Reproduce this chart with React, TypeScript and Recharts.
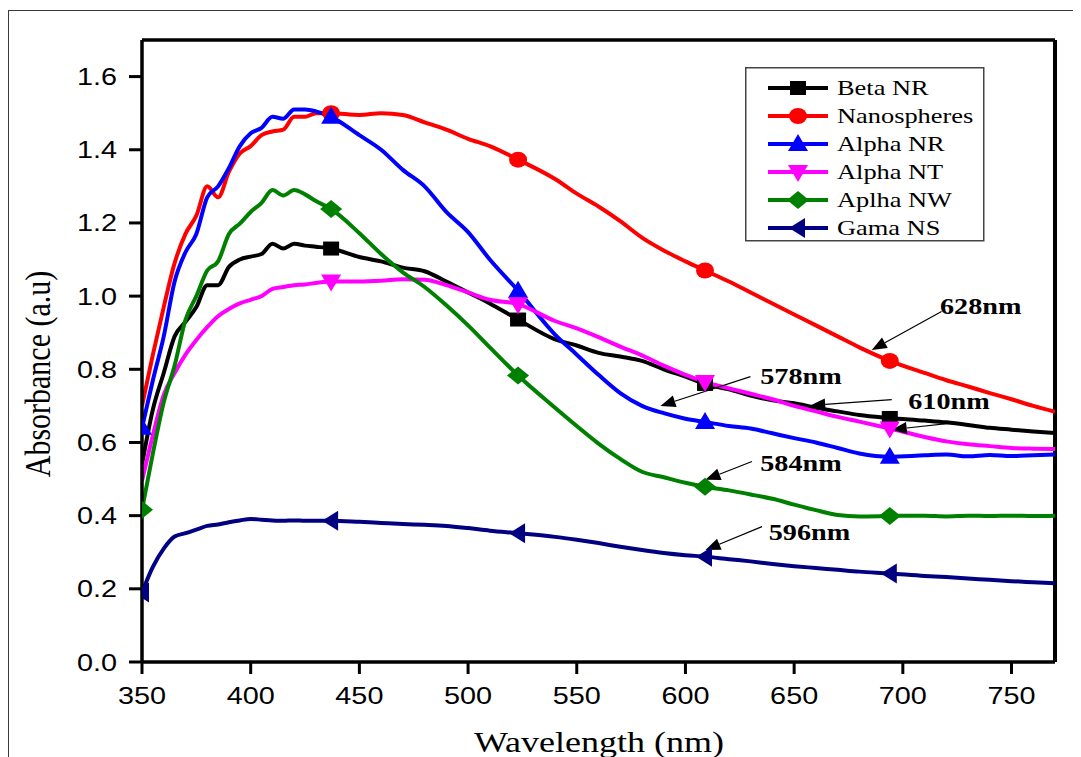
import React from 'react';
import { LineChart, Line, XAxis, YAxis, ReferenceLine, ReferenceDot, Legend } from 'recharts';

// ---------- data ----------
const wavelengths = [350, 355, 360, 365, 370, 375, 380, 385, 390, 395, 400, 405, 410, 415, 420, 425, 430, 437, 450, 460, 470, 480, 490, 500, 510, 523, 540, 550, 560, 570, 580, 590, 600, 609, 620, 630, 640, 650, 660, 670, 680, 694, 710, 720, 730, 740, 750, 760, 770];

const betaNR = [0.54, 0.69, 0.79, 0.89, 0.93, 0.97, 1.03, 1.03, 1.08, 1.10, 1.108, 1.115, 1.143, 1.13, 1.143, 1.138, 1.135, 1.13, 1.107, 1.095, 1.078, 1.068, 1.04, 1.01, 0.98, 0.936, 0.882, 0.865, 0.845, 0.835, 0.823, 0.80, 0.78, 0.76, 0.745, 0.728, 0.715, 0.707, 0.695, 0.685, 0.675, 0.667, 0.66, 0.655, 0.648, 0.64, 0.635, 0.63, 0.626];
const nanospheres = [0.70, 0.84, 0.97, 1.09, 1.17, 1.22, 1.30, 1.27, 1.34, 1.39, 1.41, 1.44, 1.45, 1.455, 1.49, 1.49, 1.50, 1.50, 1.495, 1.50, 1.495, 1.475, 1.455, 1.43, 1.41, 1.373, 1.32, 1.28, 1.245, 1.205, 1.16, 1.125, 1.095, 1.07, 1.04, 1.01, 0.98, 0.95, 0.92, 0.89, 0.86, 0.823, 0.79, 0.77, 0.753, 0.735, 0.718, 0.70, 0.684];
const alphaNR = [0.64, 0.77, 0.89, 1.04, 1.12, 1.17, 1.27, 1.30, 1.35, 1.41, 1.445, 1.46, 1.49, 1.485, 1.51, 1.51, 1.505, 1.49, 1.44, 1.40, 1.345, 1.30, 1.23, 1.175, 1.10, 1.015, 0.895, 0.84, 0.785, 0.735, 0.70, 0.68, 0.665, 0.656, 0.645, 0.638, 0.625, 0.612, 0.60, 0.585, 0.57, 0.561, 0.565, 0.567, 0.562, 0.566, 0.563, 0.565, 0.567];
const alphaNT = [0.495, 0.62, 0.73, 0.79, 0.84, 0.88, 0.915, 0.945, 0.965, 0.98, 0.99, 1.00, 1.02, 1.025, 1.03, 1.032, 1.036, 1.04, 1.04, 1.042, 1.046, 1.045, 1.03, 1.01, 0.99, 0.978, 0.932, 0.912, 0.888, 0.862, 0.838, 0.81, 0.785, 0.765, 0.748, 0.733, 0.718, 0.70, 0.685, 0.67, 0.657, 0.638, 0.615, 0.603, 0.595, 0.59, 0.585, 0.583, 0.582];
const aplhaNW = [0.416, 0.57, 0.71, 0.81, 0.935, 1.00, 1.07, 1.095, 1.17, 1.198, 1.23, 1.255, 1.29, 1.275, 1.29, 1.278, 1.26, 1.238, 1.172, 1.115, 1.065, 1.025, 0.975, 0.92, 0.86, 0.783, 0.695, 0.645, 0.597, 0.555, 0.52, 0.505, 0.49, 0.479, 0.469, 0.458, 0.446, 0.43, 0.415, 0.402, 0.398, 0.399, 0.40, 0.398, 0.40, 0.399, 0.40, 0.399, 0.40];
const gamaNS = [0.19, 0.26, 0.31, 0.343, 0.352, 0.362, 0.372, 0.376, 0.382, 0.387, 0.391, 0.389, 0.387, 0.386, 0.387, 0.386, 0.386, 0.386, 0.383, 0.38, 0.377, 0.375, 0.372, 0.366, 0.359, 0.352, 0.342, 0.334, 0.325, 0.315, 0.306, 0.298, 0.292, 0.288, 0.281, 0.275, 0.268, 0.262, 0.257, 0.252, 0.247, 0.242, 0.235, 0.232, 0.228, 0.225, 0.221, 0.218, 0.215];

const markerWavelengths = [437, 523, 609, 694];
const startMarkerSeries = ['alphaNR', 'aplhaNW', 'gamaNS'];

const xTicks = [350, 400, 450, 500, 550, 600, 650, 700, 750];
const yTicks = [0, 0.2, 0.4, 0.6, 0.8, 1.0, 1.2, 1.4, 1.6];

const seriesNames = ['Beta NR', 'Nanospheres', 'Alpha NR', 'Alpha NT', 'Aplha NW', 'Gama NS'];
const seriesKeys = ['betaNR', 'nanospheres', 'alphaNR', 'alphaNT', 'aplhaNW', 'gamaNS'];
const seriesValues = [betaNR, nanospheres, alphaNR, alphaNT, aplhaNW, gamaNS];
const seriesColors = ['#000000', '#ff0000', '#0000ff', '#ff00ff', '#008000', '#000080'];
const seriesShapes = ['square', 'circle', 'up', 'down', 'diamond', 'left'];

// annotations (data coordinates)
const annotationLabels = ['628nm', '578nm', '610nm', '584nm', '596nm'];
const annotationLabelW = [717.1, 634.4, 702.5, 634.4, 638.3];
const annotationLabelV = [0.972, 0.780, 0.712, 0.543, 0.356];
const arrowTailW = [717.8, 629.9, 694.9, 722.4, 630.6, 635.2];
const arrowTailV = [0.958, 0.780, 0.717, 0.653, 0.548, 0.370];
const arrowTipW = [685.7, 588.5, 657.4, 694.9, 609.2, 609.2];
const arrowTipV = [0.853, 0.700, 0.701, 0.635, 0.498, 0.306];

const data = wavelengths.map((w, i) => {
  const row: any = { w };
  seriesKeys.forEach((k, j) => { row[k] = seriesValues[j][i]; });
  return row;
});

// ---------- styling ----------
const SX = 1.2;
const SERIF = '"Liberation Serif", "Times New Roman", serif';
const SANS = '"Liberation Sans", Arial, sans-serif';

function markerShape(shape: string, cx: number, cy: number, color: string, key?: string) {
  switch (shape) {
    case 'square':
      return <rect key={key} x={cx - 8} y={cy - 7} width={16} height={14} fill={color} />;
    case 'circle':
      return <ellipse key={key} cx={cx} cy={cy} rx={9} ry={8} fill={color} />;
    case 'up':
      return <polygon key={key} points={`${cx},${cy - 10} ${cx - 10},${cy + 7} ${cx + 10},${cy + 7}`} fill={color} />;
    case 'down':
      return <polygon key={key} points={`${cx - 10},${cy - 7} ${cx + 10},${cy - 7} ${cx},${cy + 10}`} fill={color} />;
    case 'diamond':
      return <polygon key={key} points={`${cx},${cy - 9} ${cx + 11},${cy} ${cx},${cy + 9} ${cx - 11},${cy}`} fill={color} />;
    case 'left':
    default:
      return <polygon key={key} points={`${cx - 9},${cy} ${cx + 7},${cy - 10} ${cx + 7},${cy + 10}`} fill={color} />;
  }
}

const makeDot = (j: number) => (props: any) => {
  const { cx, cy, index, payload } = props;
  const w = payload?.w;
  const show = markerWavelengths.includes(w) || (w === wavelengths[0] && startMarkerSeries.includes(seriesKeys[j]));
  if (!show || cx == null || cy == null) return <g key={`d-${j}-${index}`} />;
  return <g key={`d-${j}-${index}`}>{markerShape(seriesShapes[j], cx, cy, seriesColors[j])}</g>;
};

const XTick = (props: any) => {
  const { x, y, payload } = props;
  return (
    <text transform={`translate(${x},${y}) scale(${SX},1)`} textAnchor="middle" dy="0.71em" fontFamily={SANS} fontSize={24} fill="#000">
      {payload.value}
    </text>
  );
};

const YTick = (props: any) => {
  const { x, y, payload } = props;
  return (
    <text transform={`translate(${x},${y}) scale(${SX},1)`} textAnchor="end" dy="0.355em" fontFamily={SANS} fontSize={24} fill="#000">
      {Number(payload.value).toFixed(1)}
    </text>
  );
};

const LegendBox = () => (
  <svg width={240} height={175} style={{ display: 'block' }}>
    <rect x={0.75} y={0.75} width={238} height={173} fill="#fff" stroke="#444" strokeWidth={1.5} />
    {seriesNames.map((name, i) => {
      const cy = 21 + i * 28;
      return (
        <g key={name}>
          <line x1={23} y1={cy} x2={83} y2={cy} stroke={seriesColors[i]} strokeWidth={4} />
          {markerShape(seriesShapes[i], 53, cy, seriesColors[i])}
          <text transform={`translate(92,${cy}) scale(${SX},1)`} dy="0.33em" fontFamily={SERIF} fontSize={22} fill="#000">
            {name}
          </text>
        </g>
      );
    })}
  </svg>
);

const arrowShape = (props: any) => {
  const { x1, y1, x2, y2 } = props;
  if ([x1, y1, x2, y2].some((v) => v == null || isNaN(v))) return <g />;
  const dx = x2 - x1;
  const dy = y2 - y1;
  const len = Math.sqrt(dx * dx + dy * dy) || 1;
  const ux = dx / len;
  const uy = dy / len;
  const hl = 15;
  const hw = 6;
  const bx = x2 - ux * hl;
  const by = y2 - uy * hl;
  return (
    <g>
      <line x1={x1} y1={y1} x2={bx} y2={by} stroke="#000" strokeWidth={1.2} />
      <polygon points={`${x2},${y2} ${bx - uy * hw},${by + ux * hw} ${bx + uy * hw},${by - ux * hw}`} fill="#000" />
    </g>
  );
};

const makeLabelShape = (label: string) => (props: any) => {
  const { cx, cy } = props;
  return (
    <text transform={`translate(${cx},${cy}) scale(${SX},1)`} dy="0.33em" fontFamily={SERIF} fontWeight="bold" fontSize={23.5} fill="#000">
      {label}
    </text>
  );
};

export default function App() {
  return (
    <div
      style={{
        position: 'relative',
        width: 1073,
        height: 747,
        marginTop: 2,
        borderTop: '1.5px solid #3a3a3a',
        borderLeft: '1.5px solid #3a3a3a',
        boxSizing: 'border-box',
        overflow: 'hidden',
        background: '#fff',
      }}
    >
      <div style={{ position: 'absolute', left: -1.5, top: -1.5 }}>
        <LineChart width={1073} height={747} data={data} margin={{ top: 30, right: 26, left: 54, bottom: 35 }}>
          <XAxis
            dataKey="w"
            type="number"
            domain={[350, 770]}
            ticks={xTicks}
            tick={<XTick />}
            tickSize={12}
            tickMargin={13}
            height={60}
            axisLine={{ stroke: '#000', strokeWidth: 3.5 }}
            tickLine={{ stroke: '#000', strokeWidth: 3 }}
            allowDataOverflow
          />
          <YAxis
            type="number"
            domain={[0, 1.7]}
            ticks={yTicks}
            tick={<YTick />}
            tickSize={13}
            tickMargin={12}
            width={80}
            axisLine={{ stroke: '#000', strokeWidth: 3.5 }}
            tickLine={{ stroke: '#000', strokeWidth: 3 }}
            allowDataOverflow
          />
          <ReferenceLine y={1.7} stroke="#000" strokeWidth={3.5} />
          <ReferenceLine x={770} stroke="#000" strokeWidth={4} />
          {seriesKeys.map((k, j) => (
            <Line
              key={k}
              type="monotone"
              dataKey={k}
              name={seriesNames[j]}
              stroke={seriesColors[j]}
              strokeWidth={4}
              dot={makeDot(j)}
              activeDot={false}
              isAnimationActive={false}
            />
          ))}
          {arrowTailW.map((tw, i) => (
            <ReferenceLine
              key={`arrow-${i}`}
              segment={[{ x: tw, y: arrowTailV[i] }, { x: arrowTipW[i], y: arrowTipV[i] }]}
              shape={arrowShape}
              ifOverflow="visible"
            />
          ))}
          {annotationLabels.map((lab, i) => (
            <ReferenceDot
              key={`lab-${i}`}
              x={annotationLabelW[i]}
              y={annotationLabelV[i]}
              r={0}
              shape={makeLabelShape(lab)}
              ifOverflow="visible"
            />
          ))}
          <Legend
            verticalAlign="middle"
            content={() => <LegendBox />}
            wrapperStyle={{ position: 'absolute', left: 737, top: 57, width: 240, height: 175 }}
          />
        </LineChart>
        <svg width={1073} height={747} style={{ position: 'absolute', left: 0, top: 0, pointerEvents: 'none' }}>
          <text transform={`translate(591,742) scale(${SX},1)`} textAnchor="middle" fontFamily={SERIF} fontSize={30} fill="#000">
            Wavelength (nm)
          </text>
          <text transform={`translate(42,364) scale(${SX},1) rotate(-90)`} textAnchor="middle" fontFamily={SERIF} fontSize={30} fill="#000">
            Absorbance (a.u)
          </text>
        </svg>
      </div>
    </div>
  );
}
